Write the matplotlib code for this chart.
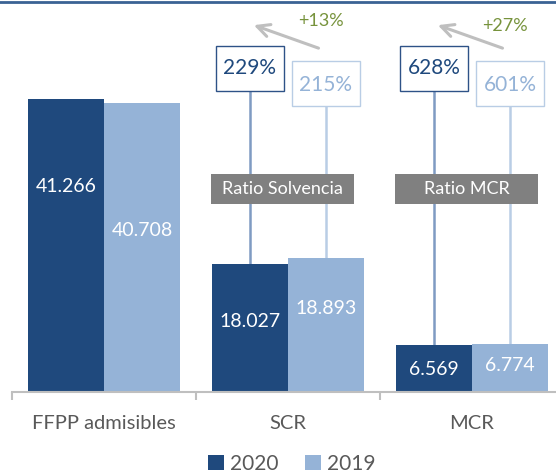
import numpy as np
import matplotlib.pyplot as plt
from matplotlib.patches import Rectangle

plt.rcParams['font.family'] = ['Lato', 'DejaVu Sans']

categories = ['FFPP admisibles', 'SCR', 'MCR']
values_2020 = [41.266, 18.027, 6.569]
values_2019 = [40.708, 18.893, 6.774]
labels_2020 = ['41.266', '18.027', '6.569']
labels_2019 = ['40.708', '18.893', '6.774']
ratio_names = ['Ratio Solvencia', 'Ratio MCR']
ratio_2020 = ['229%', '628%']
ratio_2019 = ['215%', '601%']
growth = ['+13%', '+27%']

dark = '#1F497D'
light = '#95B3D7'

fig = plt.figure(figsize=(5.56, 4.76), dpi=100)
ax = fig.add_axes([12 / 556, 84 / 476, 1 - 12 / 556, 392 / 476])

x = np.arange(len(categories))
w = 76 / 184
ax.bar(x - w / 2, values_2020, w, color=dark, label='2020', zorder=2)
ax.bar(x + w / 2, values_2019, w, color=light, label='2019', zorder=2)

# value labels (heights as in the original, not centred)
label_y_2020 = [28.9, 9.9, 3.1]
label_y_2019 = [22.7, 11.7, 3.7]
for i in range(len(categories)):
    ax.text(x[i] - w / 2, label_y_2020[i], labels_2020[i], color='white',
            fontsize=14, ha='center', va='center', zorder=3)
    ax.text(x[i] + w / 2, label_y_2019[i], labels_2019[i], color='white',
            fontsize=14, ha='center', va='center', zorder=3)

# ratio boxes for SCR and MCR
bw = 68 / 184
bh = 45 / 7.1
for j, i in enumerate([1, 2]):
    xd = x[i] - w / 2
    xl = x[i] + w / 2
    yd = 45.5
    yl = 43.4
    ax.plot([xd, xd], [yd - bh / 2, values_2020[i]], color='#7F9BC2', lw=1.8, zorder=1)
    ax.plot([xl, xl], [yl - bh / 2, values_2019[i]], color='#B9CDE5', lw=1.8, zorder=1)
    ax.add_patch(Rectangle((xd - bw / 2, yd - bh / 2), bw, bh, facecolor='white',
                           edgecolor='#2E5287', lw=1.0, zorder=4))
    ax.add_patch(Rectangle((xl - bw / 2, yl - bh / 2), bw, bh, facecolor='white',
                           edgecolor='#B9CDE5', lw=1.0, zorder=4))
    ax.text(xd, yd + 0.2, ratio_2020[j], color='#1F497D', fontsize=15,
            ha='center', va='center', zorder=5)
    ax.text(xl, yl - 0.2, ratio_2019[j], color=light, fontsize=15,
            ha='center', va='center', zorder=5)

    gw = 143 / 184
    gh = 30 / 7.1
    ax.add_patch(Rectangle((x[i] - 0.03 - gw / 2, 28.6 - gh / 2), gw, gh,
                           facecolor='#808080', edgecolor='none', zorder=4))
    ax.text(x[i] - 0.03, 28.6, ratio_names[j], color='white', fontsize=13,
            ha='center', va='center', zorder=5)

    ax.annotate('', xy=(x[i] - 0.2, 51.8), xytext=(x[i] + 0.18, 48.3),
                arrowprops=dict(arrowstyle='->,head_length=0.9,head_width=0.45',
                                color='#BFBFBF', lw=2.2), zorder=5)
    ax.text(x[i] + 0.18, 52.3 - 0.7 * j, growth[j], color='#77933C', fontsize=13,
            ha='center', va='center', zorder=5)

for s in ['top', 'right', 'left']:
    ax.spines[s].set_visible(False)
ax.spines['bottom'].set_color('#BFBFBF')
ax.spines['bottom'].set_linewidth(1.5)
ax.set_yticks([])
ax.set_xticks(np.arange(-0.5, 3, 1))
ax.set_xticklabels([])
ax.tick_params(axis='x', length=6, width=1.5, color='#BFBFBF')
ax.set_xlim(-0.5, -0.5 + 544 / 184)
ax.set_ylim(0, 392 / 7.1)
for i, c in enumerate(categories):
    ax.text(x[i], -4.5, c, color='#595959', fontsize=14.5, ha='center', va='center')

fig.legend(loc='center', bbox_to_anchor=(0.525, 1 - 464 / 476), ncol=2, frameon=False,
           fontsize=15, labelcolor='#595959', handlelength=0.75, handleheight=0.75,
           handletextpad=0.3, columnspacing=1.3)

fig.add_artist(plt.Line2D([0, 1], [1 - 2 / 476, 1 - 2 / 476], color='#3A6294', lw=2))

fig.savefig('out.png', dpi=100)
